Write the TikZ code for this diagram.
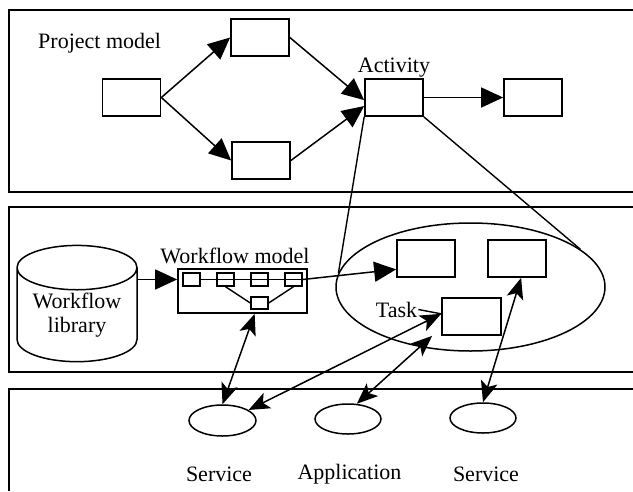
\documentclass[tikz,border=0pt]{standalone}
\usepackage{fontspec}
\setmainfont{Liberation Serif}
\usetikzlibrary{arrows.meta,shapes.geometric}

\tikzset{
	box node/.style = {
		rectangle,
		draw = black,
		line width = 1.7pt,
		minimum width = 58pt,
		minimum height = 37pt,
		inner sep = 0pt
	},
	mini node/.style = {
		box node,
		line width = 1.4pt,
		minimum width = 17pt,
		minimum height = 13pt
	},
	word node/.style = {
		inner sep = 1pt,
		anchor = base
	},
	oval node/.style = {
		ellipse,
		draw = black,
		line width = 1.5pt,
		inner sep = 0pt
	},
	lib node/.style = {
		cylinder,
		draw = black,
		line width = 1.5pt,
		shape border rotate = 90,
		aspect = 0.5,
		minimum width = 120pt,
		minimum height = 115pt,
		align = center,
		inner sep = 0pt
	},
	panel line/.style = {
		line width = 1.7pt
	},
	flow arrow/.style = {
		line width = 1.5pt,
		-{Triangle[length=22pt,width=20pt]}
	},
	both arrow/.style = {
		line width = 1.5pt,
		{Stealth[length=21pt,width=17pt,inset=5pt]}-{Stealth[length=21pt,width=17pt,inset=5pt]}
	}
}

\begin{document}
\begin{tikzpicture}[x=1pt,y=-1pt,font=\fontsize{22}{25}\selectfont]
	\useasboundingbox (0,0) rectangle (633,491);

	\draw[panel line] (633,10) -| (9,192) -- (633,192);
	\draw[panel line] (633,207) -| (9,372) -- (633,372);
	\draw[panel line] (633,389) -| (9,491);

	\node at (37,48)      [word node, anchor=base west] (proj) {Project model};
	\node at (131.5,97.5) [box node] (start) {};
	\node at (260,37.5)   [box node] (upper) {};
	\node at (261,160.5)  [box node] (lower) {};
	\node at (394,97.5)   [box node] (act) {};
	\node at (533,97.5)   [box node] (next) {};
	\node at (394,72)     [word node] (actlbl) {Activity};

	\draw[flow arrow] (start.east) -- (upper.west);
	\draw[flow arrow] (start.east) -- (lower.west);
	\draw[flow arrow] (upper.east) -- (act.185);
	\draw[flow arrow] (lower.east) -- (act.196);
	\draw[flow arrow] (act.east) -- (next.west);

	\node at (77,315)     [lib node] (lib) {\raisebox{-5pt}{\begin{tabular}{@{}c@{}}Workflow\\[-1pt]library\end{tabular}}};
	\node at (242.5,291)  [box node, minimum width=129pt, minimum height=44pt] (wfm) {};
	\node at (235,263)    [word node] (wfmlbl) {Workflow model};
	\node at (191.5,279.5) [mini node] (s1) {};
	\node at (225.5,279.5) [mini node] (s2) {};
	\node at (259.5,279.5) [mini node] (s3) {};
	\node at (293.5,279.5) [mini node] (s4) {};
	\node at (259.5,303)   [mini node, minimum height=12pt] (s5) {};
	\draw[line width=1.4pt] (s1.east) -- (s4.east);
	\draw[line width=1.4pt] (s2.south) -- (s5.west);
	\draw[line width=1.4pt] (s4.south) -- (s5.east);
	\draw[flow arrow] (lib.east |- wfm.170) -- (wfm.170);

	\node at (470.5,287)  [oval node, minimum width=269pt, minimum height=128pt] (ell) {};
	\node at (426,258.5)  [box node] (t1) {};
	\node at (517,258.5)  [box node] (t2) {};
	\node at (471.5,316.5) [box node, minimum width=59pt] (task) {};
	\node at (396.5,317)  [word node] (tasklbl) {Task};
	\draw[line width=1.4pt] (tasklbl.east) -- (task.175);

	\draw[line width=1.4pt] (act.south west) -- (ell.174);
	\draw[line width=1.4pt] (act.south east) -- (ell.19);
	\draw[flow arrow] (s4.east) -- (t1.200);

	\node at (222.5,420.5) [oval node, minimum width=67pt, minimum height=31pt] (sv1) {};
	\node at (348,419)     [oval node, minimum width=66pt, minimum height=30pt] (app) {};
	\node at (483,418)     [oval node, minimum width=66pt, minimum height=30pt] (sv2) {};
	\node at (219,481)     [word node] (sv1lbl) {Service};
	\node at (349.5,479)   [word node] (applbl) {Application};
	\node at (486,481)     [word node] (sv2lbl) {Service};

	\draw[both arrow] (sv1.north) -- (wfm.-62);
	\draw[both arrow] (sv1.22) -- (task.175);
	\draw[both arrow] (app.60) -- ([xshift=-9pt]task.south west);
	\draw[both arrow] (sv2.north) -- (t2.-78);
\end{tikzpicture}
\end{document}
